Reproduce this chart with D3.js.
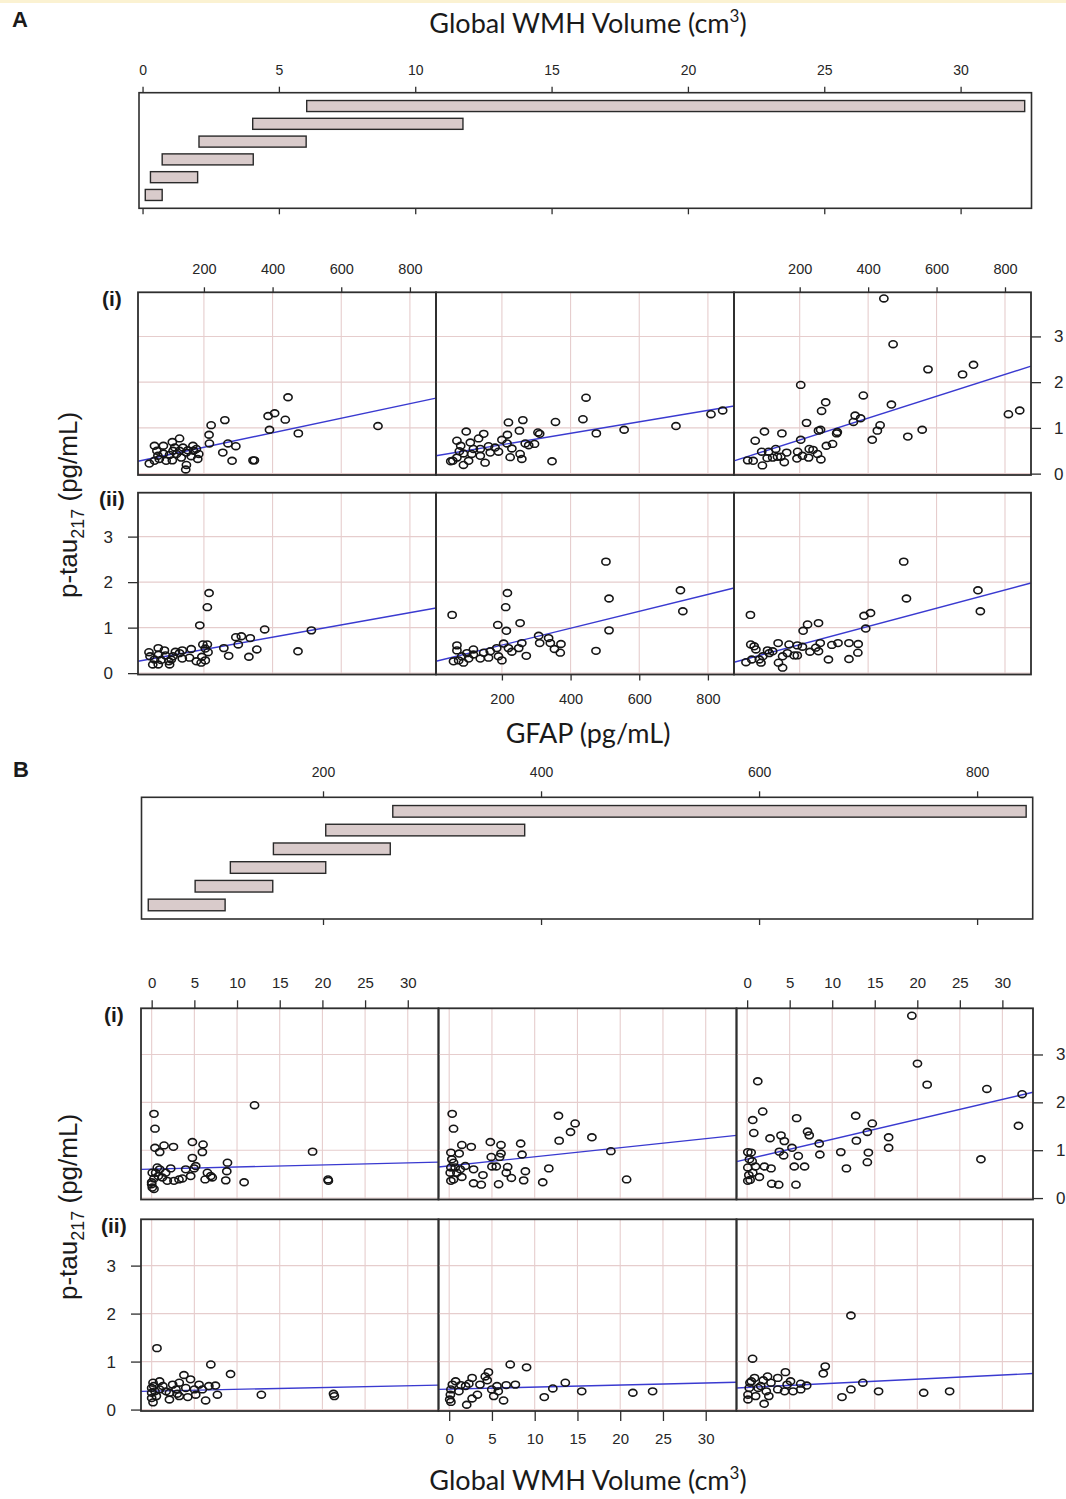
<!DOCTYPE html>
<html><head><meta charset="utf-8">
<script src="https://cdn.jsdelivr.net/npm/d3@7"></script>
<style>body{margin:0;background:#fff}svg{display:block}</style>
</head><body>
<svg id="c" width="1066" height="1499"></svg>
<script>
// ---------------- DATA ----------------
const ptauTicks = [0, 1, 2, 3];
const gfapTicks = [200, 400, 600, 800];
const wmhTicks = [0, 5, 10, 15, 20, 25, 30];
const wmhShingleTicks = [0, 5, 10, 15, 20, 25, 30];
const gfapShingleTicks = [200, 400, 600, 800];

// shingle intervals (low, high), level 1 (bottom) to level 6 (top)
const wmhIntervals = [[0.1,0.72],[0.29,2.02],[0.72,4.06],[2.07,6.0],[4.04,11.75],[6.02,32.35]];
const gfapIntervals = [[39.7,110.2],[82.7,153.9],[115,202.5],[154.5,261.7],[202.5,385],[264,845]];

// Panel A: GFAP (x) vs p-tau217 (y)
const gfapI1 = [[445,1.67],[387,1.26],[406,1.32],[437,1.18],[391,0.96],[475,0.88],[707,1.04],[221,1.06],[261,1.17],[215,0.85],[216,0.66],[270,0.66],[293,0.60],[255,0.46],[282,0.28],[343,0.29],[347,0.29],
[129,0.77],[108,0.69],[82,0.61],[56,0.61],[63,0.50],[41,0.22],[56,0.28],[70,0.32],[90,0.28],[108,0.29],[120,0.43],[139,0.57],[153,0.51],[168,0.61],[178,0.54],[185,0.43],[182,0.32],[149,0.19],[147,0.09],[134,0.35],[100,0.41],[82,0.44],[163,0.38],[149,0.46],[115,0.57],[66,0.39],[129,0.50],[170,0.50],[110,0.50]];
const gfapI2 = [[445,1.66],[436,1.19],[356,1.13],[261,1.17],[219,1.12],[475,0.88],[556,0.96],[707,1.04],[809,1.30],[843,1.38],[346,0.27],[305,0.90],[310,0.87],[251,0.94],[216,0.85],[200,0.74],[147,0.87],[132,0.77],[96,0.92],[69,0.72],[108,0.68],[80,0.61],[215,0.66],[268,0.66],[278,0.62],[295,0.65],[229,0.55],[253,0.43],[258,0.32],[224,0.36],[190,0.48],[166,0.46],[151,0.24],[137,0.39],[112,0.43],[88,0.19],[57,0.28],[69,0.35],[88,0.44],[117,0.54],[161,0.60],[180,0.57],[103,0.28],[51,0.27],[137,0.54],[76,0.49]];
const gfapI3 = [[446,3.83],[473,2.83],[575,2.28],[676,2.17],[708,2.38],[203,1.94],[386,1.71],[276,1.56],[468,1.51],[810,1.30],[843,1.38],[362,1.27],[378,1.21],[357,1.13],[264,1.37],[220,1.11],[435,1.06],[427,0.94],[412,0.74],[516,0.81],[558,0.96],[255,0.94],[261,0.96],[308,0.88],[310,0.91],[148,0.88],[97,0.92],[70,0.72],[203,0.74],[296,0.65],[278,0.61],[228,0.54],[239,0.52],[252,0.43],[262,0.31],[226,0.35],[192,0.33],[194,0.48],[162,0.46],[145,0.37],[135,0.37],[155,0.25],[130,0.54],[109,0.48],[89,0.48],[105,0.34],[91,0.18],[64,0.28],[48,0.29],[121,0.35],[208,0.39]];
const gfapII1 = [[215,1.76],[210,1.45],[188,1.05],[377,0.96],[513,0.94],[474,0.48],[293,0.79],[309,0.81],[335,0.77],[300,0.63],[354,0.52],[331,0.36],[258,0.55],[272,0.38],[197,0.63],[210,0.63],[204,0.54],[212,0.46],[194,0.36],[204,0.28],[192,0.23],[178,0.26],[163,0.53],[158,0.34],[137,0.32],[137,0.50],[117,0.47],[110,0.37],[98,0.26],[100,0.19],[88,0.39],[75,0.29],[67,0.55],[68,0.41],[67,0.19],[51,0.19],[40,0.46],[43,0.37],[85,0.50],[56,0.30],[129,0.44],[105,0.30]];
const gfapII2 = [[503,2.45],[216,1.76],[512,1.64],[720,1.82],[727,1.36],[55,1.28],[211,1.45],[188,1.06],[213,0.93],[253,1.10],[512,0.94],[474,0.49],[307,0.82],[336,0.77],[310,0.66],[341,0.66],[372,0.64],[353,0.53],[370,0.45],[271,0.38],[258,0.66],[249,0.55],[229,0.47],[205,0.65],[200,0.28],[190,0.37],[185,0.55],[166,0.48],[161,0.34],[137,0.32],[147,0.45],[117,0.52],[117,0.41],[103,0.32],[88,0.23],[74,0.28],[59,0.26],[69,0.61],[69,0.50],[83,0.37],[98,0.44],[219,0.55]];
const gfapII3 = [[504,2.45],[512,1.64],[721,1.82],[728,1.36],[56,1.28],[388,1.26],[407,1.32],[223,1.07],[255,1.10],[210,0.93],[393,0.98],[137,0.66],[169,0.63],[193,0.61],[208,0.58],[260,0.66],[294,0.62],[312,0.66],[344,0.66],[371,0.64],[370,0.45],[344,0.31],[284,0.30],[230,0.47],[255,0.48],[247,0.56],[193,0.39],[184,0.39],[164,0.44],[150,0.37],[138,0.23],[150,0.12],[87,0.23],[82,0.30],[72,0.52],[57,0.63],[67,0.59],[106,0.50],[111,0.44],[121,0.48],[43,0.24],[60,0.30],[92,0.37]];
// fitted p-tau217 at GFAP domain ends
const fitGfapI = [[0.27,1.65],[0.39,1.48],[0.28,2.35]];
const fitGfapII = [[0.26,1.43],[0.26,1.87],[0.24,1.98]];

// Panel B: WMH volume (x) vs p-tau217 (y)
const wmhI1 = [[12.05,1.94],[0.27,1.76],[0.39,1.45],[0.39,1.05],[1.45,1.10],[0.94,0.96],[2.55,1.07],[4.77,1.17],[6.02,1.12],[5.94,0.96],[4.77,0.84],[18.85,0.97],[8.88,0.74],[8.80,0.56],[8.68,0.37],[10.83,0.33],[20.66,0.39],[20.7,0.36],[6.53,0.53],[6.92,0.46],[7.1,0.43],[6.26,0.39],[4.97,0.62],[3.99,0.60],[4.57,0.46],[3.6,0.41],[2.61,0.36],[1.83,0.36],[2.23,0.62],[1.25,0.43],[0.66,0.64],[0.07,0.53],[0.0,0.33],[0.07,0.22],[0.0,0.29],[0.27,0.41],[0.47,0.53],[0.94,0.60],[1.64,0.53],[3.2,0.39],[5.16,0.67],[0.27,0.19],[0.78,0.46]];
const wmhI2 = [[0.35,1.76],[0.51,1.45],[12.78,1.72],[14.73,1.56],[14.19,1.38],[12.86,1.20],[16.69,1.27],[18.91,0.98],[20.75,0.39],[11.65,0.62],[10.94,0.33],[8.91,0.56],[8.71,0.37],[8.52,0.91],[8.36,1.14],[7.27,0.42],[6.68,0.53],[6.84,0.65],[5.78,0.29],[6.06,1.11],[6.06,0.93],[5.9,0.86],[4.81,1.17],[4.92,0.86],[5.0,0.66],[5.51,0.66],[3.95,0.48],[3.75,0.28],[2.85,0.31],[2.85,0.60],[2.58,1.07],[1.48,1.11],[1.17,0.93],[0.2,0.95],[0.31,0.81],[0.51,0.74],[0.2,0.64],[0.12,0.53],[0.2,0.36],[0.51,0.39],[0.9,0.53],[1.29,0.60],[1.48,0.44],[1.88,0.67],[0.7,0.64]];
const wmhI3 = [[19.36,3.81],[20.02,2.81],[21.16,2.37],[28.18,2.28],[32.32,2.17],[31.89,1.51],[27.48,0.81],[1.25,2.44],[1.83,1.81],[0.66,1.63],[0.78,1.36],[5.82,1.67],[12.76,1.72],[14.71,1.56],[14.13,1.38],[12.84,1.20],[16.63,1.27],[16.63,1.05],[14.25,0.95],[14.13,0.75],[11.67,0.62],[11.01,0.96],[8.47,1.14],[8.55,0.91],[7.1,1.39],[7.3,1.31],[6.75,0.66],[6.01,0.88],[5.54,0.66],[5.74,0.28],[5.27,1.05],[4.37,1.19],[3.98,1.31],[3.79,0.97],[4.29,0.89],[2.69,1.25],[2.81,0.62],[2.89,0.30],[3.71,0.28],[2.03,0.66],[1.44,0.44],[0.98,0.66],[0.08,0.96],[0.47,0.95],[0.27,0.81],[0.08,0.64],[0.66,0.53],[0.2,0.48],[0.08,0.36],[0.35,0.38],[0.59,0.77]];
const wmhII1 = [[0.62,1.28],[6.93,0.94],[9.24,0.74],[3.78,0.72],[4.55,0.63],[3.23,0.56],[5.55,0.52],[7.47,0.50],[6.70,0.49],[5.01,0.42],[7.70,0.31],[6.32,0.19],[12.85,0.31],[21.3,0.33],[21.4,0.28],[5.16,0.31],[3.23,0.28],[2.08,0.21],[1.69,0.38],[2.46,0.52],[1.31,0.49],[0.93,0.59],[0.16,0.56],[0.0,0.45],[0.0,0.35],[0.0,0.24],[0.16,0.15],[0.39,0.38],[0.55,0.28],[0.93,0.42],[2.85,0.42],[4.0,0.45],[3.0,0.33],[4.23,0.26],[5.93,0.42],[2.08,0.35],[0.24,0.49]];
const wmhII2 = [[7.14,0.94],[9.05,0.88],[4.59,0.78],[4.22,0.69],[2.68,0.66],[4.45,0.61],[3.6,0.52],[2.3,0.54],[1.37,0.51],[0.37,0.52],[0.2,0.42],[0.14,0.31],[0.06,0.21],[0.2,0.16],[2.05,0.10],[2.68,0.23],[3.3,0.31],[5.21,0.28],[6.36,0.19],[5.59,0.49],[6.67,0.51],[7.74,0.52],[4.98,0.42],[5.74,0.38],[11.12,0.26],[12.12,0.44],[13.58,0.56],[15.5,0.38],[21.48,0.35],[23.79,0.38],[1.14,0.38],[1.92,0.49],[0.75,0.59]];
const wmhII3 = [[0.64,1.06],[12.2,1.96],[9.18,0.90],[8.95,0.75],[4.5,0.78],[2.4,0.69],[3.6,0.66],[5.1,0.59],[7.0,0.50],[6.3,0.42],[5.4,0.38],[4.4,0.38],[3.6,0.42],[2.25,0.38],[1.6,0.49],[0.49,0.59],[0.25,0.45],[0.1,0.31],[0.1,0.21],[1.0,0.28],[2.0,0.12],[2.55,0.28],[1.3,0.45],[2.8,0.56],[13.6,0.56],[12.2,0.42],[11.15,0.26],[15.45,0.38],[20.75,0.35],[23.8,0.38],[0.87,0.66],[1.9,0.61],[4.7,0.52],[6.3,0.54],[0.33,0.56]];
const fitWmhI = [[0.60,0.75],[0.65,1.31],[0.76,2.21]];
const fitWmhII = [[0.38,0.51],[0.42,0.57],[0.45,0.75]];

// ---------------- LAYOUT / STYLE ----------------
const W = 1066, H = 1499;
const GRID = '#e6cdcd', BORDER = '#2e2e2e', PT = '#151515', FIT = '#3a3ad0', BARFILL = '#d9cbcb';
const SANS = "'Liberation Sans', Arial, sans-serif";
const NARROW = "'Liberation Sans Narrow', 'Arial Narrow', 'Liberation Sans', sans-serif";
const TITLE = "Lato, 'Open Sans', sans-serif";
const yDom = [-0.03, 3.965];
const gfapDom = [8, 876];
const wmhDom = [-1.25, 33.6];

const svg = d3.select('#c');
svg.append('rect').attr('width', W).attr('height', H).attr('fill', '#fff');
svg.append('rect').attr('width', W).attr('height', 3).attr('fill', '#fbf2d2');

function styleAxis(g, font, size) {
  g.select('.domain').remove();
  g.selectAll('.tick line').attr('stroke', BORDER).attr('stroke-width', 1.3);
  g.selectAll('.tick text').attr('fill', '#262626').style('font-family', font).style('font-size', size + 'px');
}

function panel(c) {
  const x = d3.scaleLinear().domain(c.xDom).range([c.x0, c.x1]);
  const y = d3.scaleLinear().domain(yDom).range([c.y1, c.y0]);
  const g = svg.append('g');
  g.selectAll(null).data(c.xTicks).join('line')
    .attr('x1', d => x(d)).attr('x2', d => x(d)).attr('y1', c.y0).attr('y2', c.y1)
    .attr('stroke', GRID).attr('stroke-width', 1.1);
  g.selectAll(null).data(ptauTicks).join('line')
    .attr('x1', c.x0).attr('x2', c.x1).attr('y1', d => y(d)).attr('y2', d => y(d))
    .attr('stroke', GRID).attr('stroke-width', 1.1);
  g.append('path').datum([[c.xDom[0], c.fit[0]], [c.xDom[1], c.fit[1]]])
    .attr('d', d3.line().x(d => x(d[0])).y(d => y(d[1])))
    .attr('fill', 'none').attr('stroke', FIT).attr('stroke-width', 1.4);
  g.selectAll(null).data(c.data).join('ellipse')
    .attr('cx', d => x(d[0])).attr('cy', d => y(d[1])).attr('rx', 4.1).attr('ry', 3.4)
    .attr('fill', 'none').attr('stroke', PT).attr('stroke-width', 1.6);
  g.append('rect').attr('x', c.x0).attr('y', c.y0).attr('width', c.x1 - c.x0).attr('height', c.y1 - c.y0)
    .attr('fill', 'none').attr('stroke', BORDER).attr('stroke-width', 1.8);
  const fmt = d3.format('d');
  if (c.top) {
    const a = g.append('g').attr('transform', `translate(0,${c.y0})`)
      .call(d3.axisTop(x).tickValues(c.xTicks).tickFormat(fmt).tickSize(c.tsTop).tickPadding(c.tpTop));
    styleAxis(a, SANS, c.xFont);
  }
  if (c.bottom) {
    const a = g.append('g').attr('transform', `translate(0,${c.y1})`)
      .call(d3.axisBottom(x).tickValues(c.xTicks).tickFormat(fmt).tickSize(c.tsBot).tickPadding(c.tpBot));
    styleAxis(a, SANS, c.xFont);
  }
  if (c.left) {
    const a = g.append('g').attr('transform', `translate(${c.x0},0)`)
      .call(d3.axisLeft(y).tickValues(ptauTicks).tickFormat(fmt).tickSize(10).tickPadding(15));
    styleAxis(a, SANS, 17);
  }
  if (c.right) {
    const a = g.append('g').attr('transform', `translate(${c.x1},0)`)
      .call(d3.axisRight(y).tickValues(ptauTicks).tickFormat(fmt).tickSize(10).tickPadding(13));
    styleAxis(a, SANS, 17);
  }
}

function shingle(c) {
  const x = d3.scaleLinear().domain(c.dom).range([c.x0, c.x1]);
  const lv = d3.scalePoint().domain(d3.range(c.intervals.length)).range([c.y1, c.y0]).padding(0.75);
  const bh = lv.step() * 0.62;
  const g = svg.append('g');
  g.append('rect').attr('x', c.x0).attr('y', c.y0).attr('width', c.x1 - c.x0).attr('height', c.y1 - c.y0)
    .attr('fill', 'none').attr('stroke', BORDER).attr('stroke-width', 1.6);
  g.selectAll(null).data(c.intervals).join('rect')
    .attr('x', d => x(d[0])).attr('width', d => x(d[1]) - x(d[0]))
    .attr('y', (d, i) => lv(i) - bh / 2).attr('height', bh)
    .attr('fill', BARFILL).attr('stroke', '#2a2a2a').attr('stroke-width', 1.4);
  const t = g.append('g').attr('transform', `translate(0,${c.y0})`)
    .call(d3.axisTop(x).tickValues(c.ticks).tickSize(6).tickPadding(c.tp));
  styleAxis(t, NARROW, c.font);
  const b = g.append('g').attr('transform', `translate(0,${c.y1})`)
    .call(d3.axisBottom(x).tickValues(c.ticks).tickSize(6).tickFormat(''));
  styleAxis(b, NARROW, c.font);
}

function text(x, y, parts, font, size, weight, anchor, rotate) {
  const t = svg.append('text')
    .attr('transform', `translate(${x},${y})` + (rotate ? ` rotate(${rotate})` : ''))
    .attr('text-anchor', anchor || 'start').attr('fill', '#1a1a1a')
    .style('font-family', font).style('font-size', size + 'px').style('font-weight', weight || 'normal');
  parts.forEach(p => {
    const s = t.append('tspan').text(p.t);
    if (p.dy) s.attr('dy', p.dy);
    if (p.size) s.style('font-size', p.size + 'px');
  });
  return t;
}
const wmhTitle = [{t: 'Global WMH Volume (cm'}, {t: '3', dy: -11, size: 17}, {t: ')', dy: 11}];
const ptauTitle = [{t: 'p-tau'}, {t: '217', dy: 7, size: 18}, {t: ' (pg/mL)', dy: -7}];

// ---------------- PART A ----------------
text(12, 27, [{t: 'A'}], NARROW, 22, 'bold');
text(588, 33, wmhTitle, TITLE, 27, 'normal', 'middle');
shingle({x0: 139, x1: 1031.5, y0: 92.7, y1: 208.3, dom: [-0.13, 32.6], intervals: wmhIntervals,
  ticks: wmhShingleTicks, tp: 12, font: 14});

const colsA = [[138, 436], [436, 734], [734, 1031]];
const rowsA = [[292.3, 475], [492.7, 674.5]];
const dataA = [[gfapI1, gfapI2, gfapI3], [gfapII1, gfapII2, gfapII3]];
const fitsA = [fitGfapI, fitGfapII];
rowsA.forEach((r, ri) => colsA.forEach((cx, ci) => panel({
  x0: cx[0], x1: cx[1], y0: r[0], y1: r[1], xDom: gfapDom, xTicks: gfapTicks,
  data: dataA[ri][ci], fit: fitsA[ri][ci], xFont: 14.5,
  top: ri === 0 && ci !== 1, tsTop: 5, tpTop: 13,
  bottom: ri === 1 && ci === 1, tsBot: 6, tpBot: 13,
  left: ri === 1 && ci === 0, right: ri === 0 && ci === 2
})));
text(102, 306, [{t: '(i)'}], SANS, 21, 'bold');
text(99, 506, [{t: '(ii)'}], SANS, 21, 'bold');
text(77, 505, ptauTitle, SANS, 26, 'normal', 'middle', -90);
text(588, 743, [{t: 'GFAP (pg/mL)'}], TITLE, 27, 'normal', 'middle');

// ---------------- PART B ----------------
text(13, 777, [{t: 'B'}], NARROW, 22, 'bold');
shingle({x0: 141.5, x1: 1032.7, y0: 797.3, y1: 919, dom: [33.5, 851], intervals: gfapIntervals,
  ticks: gfapShingleTicks, tp: 14, font: 14});

const colsB = [[141, 438.5], [438.5, 736.5], [736.5, 1033]];
const rowsB = [[1008.3, 1199.5], [1219.3, 1411]];
const dataB = [[wmhI1, wmhI2, wmhI3], [wmhII1, wmhII2, wmhII3]];
const fitsB = [fitWmhI, fitWmhII];
rowsB.forEach((r, ri) => colsB.forEach((cx, ci) => panel({
  x0: cx[0], x1: cx[1], y0: r[0], y1: r[1], xDom: wmhDom, xTicks: wmhTicks,
  data: dataB[ri][ci], fit: fitsB[ri][ci], xFont: 15,
  top: ri === 0 && ci !== 1, tsTop: 8, tpTop: 12,
  bottom: ri === 1 && ci === 1, tsBot: 10, tpBot: 12,
  left: ri === 1 && ci === 0, right: ri === 0 && ci === 2
})));
text(104, 1022, [{t: '(i)'}], SANS, 21, 'bold');
text(101, 1233, [{t: '(ii)'}], SANS, 21, 'bold');
text(77, 1207, ptauTitle, SANS, 26, 'normal', 'middle', -90);
text(588, 1490, wmhTitle, TITLE, 27, 'normal', 'middle');
</script>
</body></html>
